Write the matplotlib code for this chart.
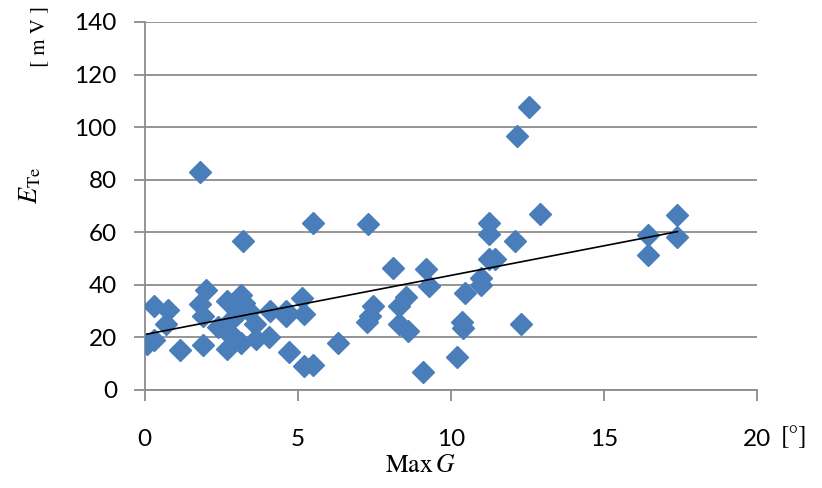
import numpy as np
import matplotlib.pyplot as plt

# MaxG [deg] vs E_Te [mV]
max_g = [0.07, 0.3, 0.3, 0.7, 0.75, 1.15, 1.8, 1.8, 1.9, 1.9, 2.0, 2.4, 2.6, 2.7, 2.7,
         2.75, 2.85, 3.0, 3.1, 3.1, 3.15, 3.2, 3.15, 3.25, 3.4, 3.6, 3.65, 4.05, 4.1,
         4.6, 4.6, 4.7, 5.15, 5.2, 5.2, 5.5, 5.5, 6.3, 7.3, 7.25, 7.35, 7.45, 8.1, 8.3,
         8.3, 8.55, 8.6, 9.1, 9.2, 9.3, 10.2, 10.35, 10.4, 10.45, 11.0, 11.0, 11.25,
         11.25, 11.25, 11.45, 12.15, 12.1, 12.3, 12.55, 12.9, 16.45, 16.45, 17.4, 17.4]
e_te = [17.5, 19, 32, 25, 30.5, 15, 83, 32.5, 28, 17, 38, 24, 23, 34, 15.5,
        22, 27, 29, 30, 32, 18, 56.5, 36, 33, 30, 25, 19.5, 20, 30,
        30, 28, 14.5, 35, 29, 9, 9.5, 63.5, 18, 63, 26, 28, 32, 46.5, 32,
        25, 35.5, 22.5, 7, 46, 39.5, 12.5, 26, 23.5, 37, 42.5, 40, 63.5,
        59.5, 50, 50, 96.5, 56.5, 25, 107.5, 67, 59, 51.5, 66.5, 58]

plt.rcParams['mathtext.fontset'] = 'stix'
tick_font = 'Lato'

fig = plt.figure(figsize=(8.22, 4.88), dpi=100)
ax = fig.add_axes([0.176, 0.201, 0.745, 0.754])

ax.plot(max_g, e_te, linestyle='none', marker='D', markersize=11.5,
        color='#4a7ebb', markeredgecolor='#4a7ebb', zorder=3)

# linear trendline over the data range
k, b = np.polyfit(max_g, e_te, 1)
xs = np.array([min(max_g), max(max_g)])
ax.plot(xs, k * xs + b, color='black', linewidth=1.2, zorder=4)

ax.set_xlim(0, 20)
ax.set_ylim(0, 140)
ax.set_xticks([0, 5, 10, 15, 20])
ax.set_yticks(np.arange(0, 141, 20))
ax.grid(axis='y', color='#8c8c8c', linewidth=1.3)
ax.set_axisbelow(True)
for s in ['top', 'right']:
    ax.spines[s].set_visible(False)
for s in ['left', 'bottom']:
    ax.spines[s].set_color('#8c8c8c')
    ax.spines[s].set_linewidth(1.3)
ax.tick_params(axis='x', direction='out', length=8, color='#8c8c8c', width=1.3, pad=20)
ax.tick_params(axis='y', direction='out', length=8, color='#8c8c8c', width=1.3, pad=12)
for lab in ax.get_xticklabels() + ax.get_yticklabels():
    lab.set_fontfamily(tick_font)
    lab.set_fontsize(17.5)

fig.text(0.0365, 0.62, r'$E_{\mathrm{Te}}$', rotation=90, fontsize=19,
         ha='center', va='center')
fig.text(0.048, 0.925, '[ m V ]', rotation=90, fontsize=15, family='STIXGeneral',
         ha='center', va='center')
fig.text(0.511, 0.047, r'$\mathrm{Max}\,G$', fontsize=18.5, ha='center', va='center')
fig.text(0.966, 0.105, '[°]', fontsize=18, family='STIXGeneral',
         ha='center', va='center')

plt.savefig('out.png', dpi=100)
